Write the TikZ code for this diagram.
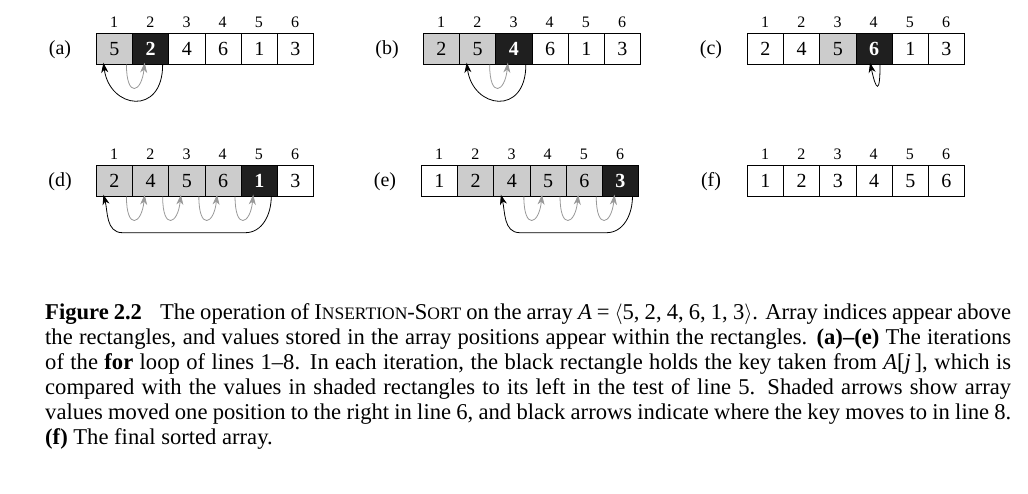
\documentclass[tikz,border=0pt]{standalone}
\usepackage{fontspec}
\setmainfont{Liberation Serif}
\usetikzlibrary{calc,arrows.meta}
\begin{document}
\begin{tikzpicture}[x=1pt,y=-1pt,
  cell/.style={draw,line width=0.7pt,minimum width=36.2pt,minimum height=31pt,inner sep=0pt,font=\fontsize{20}{20}\selectfont,anchor=north west},
  sh/.style={fill=black!20},
  key/.style={fill=black!88,text=white,font=\fontsize{20}{20}\selectfont\bfseries},
  idx/.style={font=\fontsize{16}{16}\selectfont},
  lab/.style={font=\fontsize{20}{20}\selectfont},
  garr/.style={draw=black!40,line width=0.8pt,-{Stealth[length=10pt,width=7pt,inset=3pt]}},
  barr/.style={draw=black,line width=0.8pt,-{Stealth[length=10pt,width=7pt,inset=3pt]}}]
\useasboundingbox (0,0) rectangle (1028,493);
\foreach \nm/\x/\y/\vals/\shd/\k in {a/96/33/{5,2,4,6,1,3}/{1}/2, b/423/33/{2,5,4,6,1,3}/{1,2}/3, c/747/33/{2,4,5,6,1,3}/{3}/4, d/96/165/{2,4,5,6,1,3}/{1,2,3,4}/5, e/421/165/{1,2,4,5,6,3}/{2,3,4,5}/6, f/747/165/{1,2,3,4,5,6}/{}/0} {
  \node[lab] (\nm lab) at (\x-36,\y+17) {(\nm)};
  \foreach \v [count=\i] in \vals {
    \ifnum\i=\k
      \node[cell,key] (\nm\i) at ({\x+(\i-1)*36.2},\y) {\v};
    \else
      \def\isshaded{0}
      \foreach \s in \shd {\ifnum\s=\i\global\def\isshaded{1}\fi}
      \ifnum\isshaded=1
        \node[cell,sh] (\nm\i) at ({\x+(\i-1)*36.2},\y) {\v};
      \else
        \node[cell] (\nm\i) at ({\x+(\i-1)*36.2},\y) {\v};
      \fi
    \fi
    \node[idx] (\nm i\i) at ({\x+(\i-0.5)*36.2},\y-11) {\i};
  }
}
% gray arrows i -> i+1
\foreach \nm/\i/\j in {a/1/2, b/2/3, d/1/2, d/2/3, d/3/4, d/4/5, e/3/4, e/4/5, e/5/6}
  \draw[garr] ($(\nm\i.south)+(12,0)$) .. controls +(0,34) and +(-3,30) .. ($(\nm\j.south)+(-6,-2)$);
% black arrows
\draw[barr] ($(a2.south)+(12,0)$) .. controls +(0,52) and +(6,46) .. ($(a1.south)+(-11,-2)$);
\draw[barr] ($(b3.south)+(12,0)$) .. controls +(0,52) and +(6,46) .. ($(b2.south)+(-11,-2)$);
\draw[barr] ($(c4.south)+(6,0)$) .. controls +(0,30) and +(6,28) .. ($(c4.south)+(-4,-2)$);
\draw[barr] ($(d5.south)+(12,0)$) to[out=-90,in=0] ($(d5.south)+(-14,36)$) -- ($(d1.south)+(8,36)$) to[out=180,in=-75] ($(d1.south)+(-11,-2)$);
\draw[barr] ($(e6.south)+(12,0)$) to[out=-90,in=0] ($(e6.south)+(-14,36)$) -- ($(e3.south)+(8,36)$) to[out=180,in=-75] ($(e3.south)+(-11,-2)$);
% caption
\node[anchor=north west,text width=966pt,align=justify,inner sep=0pt,font=\fontsize{22.6}{25}\selectfont] (cap) at (45,303) {%
\textbf{Figure 2.2}\hspace{0.8em}The operation of I{\fontsize{17.5}{25}\selectfont NSERTION}-S{\fontsize{17.5}{25}\selectfont ORT} on the array \textit{A} = $\langle$5, 2, 4, 6, 1, 3$\rangle$. Array indices appear above the rectangles, and values stored in the array positions appear within the rectangles. \textbf{(a)--(e)} The iterations of the \textbf{for} loop of lines 1--8. In each iteration, the black rectangle holds the key taken from \textit{A}[\textit{j}\,], which is compared with the values in shaded rectangles to its left in the test of line 5. Shaded arrows show array values moved one position to the right in line 6, and black arrows indicate where the key moves to in line 8. \textbf{(f)} The final sorted array.\par};
\end{tikzpicture}
\end{document}
